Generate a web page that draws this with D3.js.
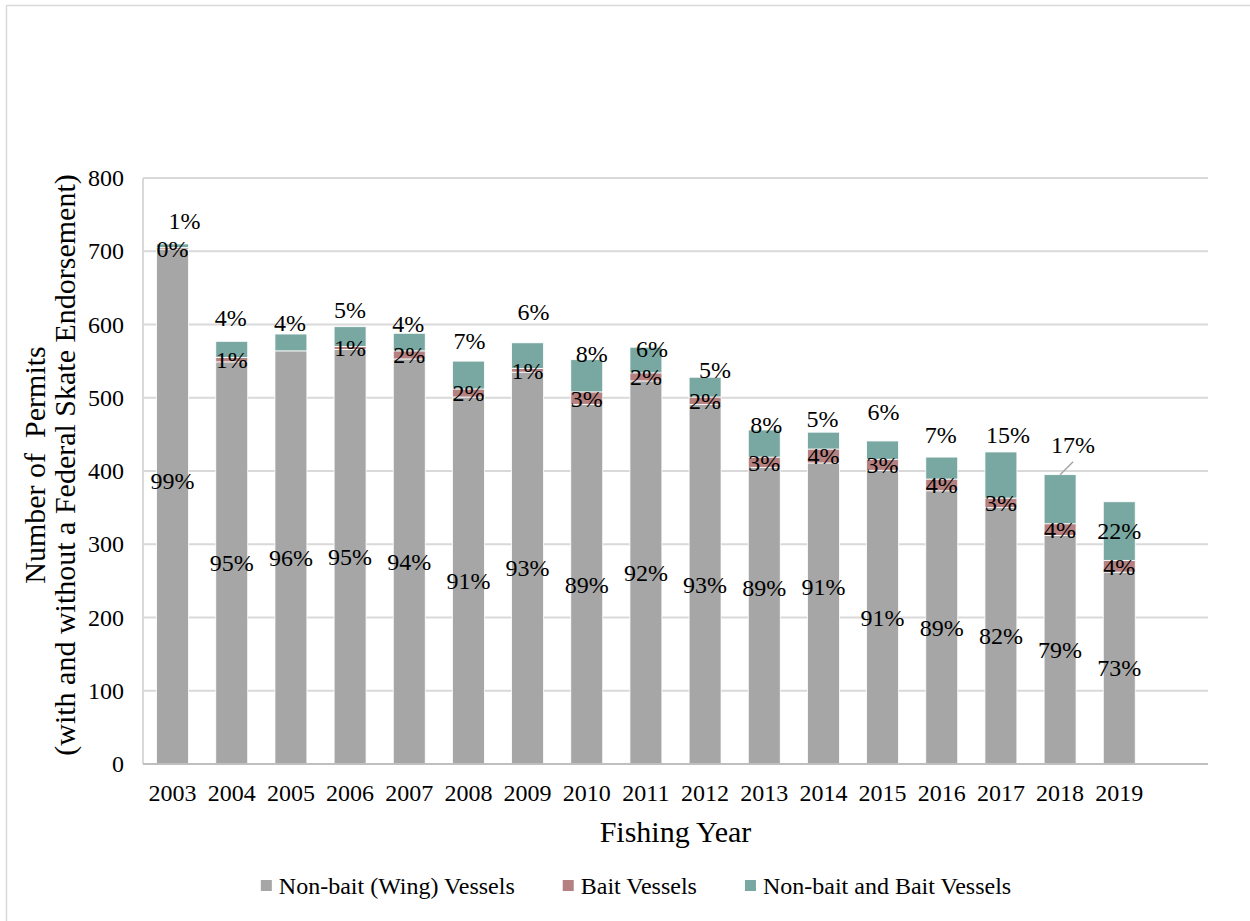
<!DOCTYPE html>
<html>
<head>
<meta charset="utf-8">
<script src="https://cdn.jsdelivr.net/npm/d3@7"></script>
<style>
  html, body { margin: 0; padding: 0; background: #fff; }
  svg { display: block; font-family: "Liberation Serif", serif; }
  svg text { font-family: "Liberation Serif", serif !important; fill: #000; }
</style>
</head>
<body>
<svg id="chart" width="1250" height="921"></svg>
<script>
// Fishing years and permit counts by vessel type
const years = [2003, 2004, 2005, 2006, 2007, 2008, 2009, 2010, 2011, 2012, 2013, 2014, 2015, 2016, 2017, 2018, 2019];
const wingVessels = [703, 549, 564, 566, 553, 501, 535, 491, 523, 491, 405, 411, 401, 373, 350, 312, 262];
const baitVessels = [2, 6, 0, 4, 11, 11, 5, 17, 11, 10, 14, 19, 15, 16, 13, 16, 16];
const bothVessels = [5, 22, 23, 27, 24, 38, 35, 44, 35, 27, 37, 23, 25, 30, 63, 67, 80];
const yTicks = [0, 100, 200, 300, 400, 500, 600, 700, 800];
const seriesNames = ["Non-bait (Wing) Vessels", "Bait Vessels", "Non-bait and Bait Vessels"];
const seriesColors = ["#a6a6a6", "#b48080", "#79a8a2"];

// Hand placement of the top-segment labels (pixels relative to the bar top / centre)
const topLabelDx = [12, -1, -1, 0, -1, 1, 6, 5, 6, 10, 2, -1, 1, -1, 7, 13, 0];
const topLabelDy = [-23, -24, -11, -17, -10, -21, -31, -6, 1, -8, -5, -14, -29, -22, -17, -30, null];
const wingLabelDy = { 2003: -26, 2013: -28, 2014: -27 };

const FONT = '"Liberation Serif", serif';
const svg = d3.select("#chart");
const W = 1250, H = 921;
const plot = { left: 143, right: 1208, top: 178, bottom: 764 };

// chart-area frame
svg.append("rect")
  .attr("x", 6.5).attr("y", 5.5)
  .attr("width", W + 20).attr("height", H + 20)
  .attr("fill", "none").attr("stroke", "#d9d9d9").attr("stroke-width", 1.5);

const slot = (plot.right - plot.left) / 18;
const x = d3.scaleBand()
  .domain(years)
  .range([plot.left, plot.left + slot * years.length])
  .paddingInner(0.46)
  .paddingOuter(0.23);

const y = d3.scaleLinear().domain([0, 800]).range([plot.bottom, plot.top]);

// gridlines
svg.append("g")
  .selectAll("line")
  .data(yTicks.filter(d => d > 0))
  .join("line")
  .attr("x1", plot.left).attr("x2", plot.right)
  .attr("y1", d => y(d)).attr("y2", d => y(d))
  .attr("stroke", "#d9d9d9").attr("stroke-width", 2);

// left axis line
svg.append("line")
  .attr("x1", plot.left).attr("x2", plot.left)
  .attr("y1", plot.top).attr("y2", plot.bottom)
  .attr("stroke", "#d9d9d9").attr("stroke-width", 2);

// y tick labels
const yAxis = d3.axisLeft(y).tickValues(yTicks).tickSize(0).tickPadding(19);
const gy = svg.append("g").attr("transform", `translate(${plot.left},0)`).call(yAxis)
  .attr("font-family", FONT).attr("font-size", 24);
gy.select(".domain").remove();
gy.selectAll("text").attr("fill", "#000");

// stacked data
const rows = years.map((yr, i) => ({ year: yr, wing: wingVessels[i], bait: baitVessels[i], both: bothVessels[i] }));
const keys = ["wing", "bait", "both"];
const stack = d3.stack().keys(keys)(rows);

const barG = svg.append("g");
stack.forEach((layer, k) => {
  barG.append("g")
    .attr("fill", seriesColors[k])
    .selectAll("rect")
    .data(layer)
    .join("rect")
    .attr("x", d => x(d.data.year))
    .attr("width", x.bandwidth())
    .attr("y", d => y(d[1]))
    .attr("height", d => y(d[0]) - y(d[1]))
    .attr("stroke", "#ffffff").attr("stroke-width", 0.8);
});

// x axis line
svg.append("line")
  .attr("x1", plot.left).attr("x2", plot.right)
  .attr("y1", plot.bottom).attr("y2", plot.bottom)
  .attr("stroke", "#bfbfbf").attr("stroke-width", 2);

// x tick labels
const xAxis = d3.axisBottom(x).tickSize(0).tickPadding(20);
const gx = svg.append("g").attr("transform", `translate(0,${plot.bottom})`).call(xAxis)
  .attr("font-family", FONT).attr("font-size", 24);
gx.select(".domain").remove();
gx.selectAll("text").attr("fill", "#000");

// percentage labels
const pct = (v, d) => Math.round(v / (d.wing + d.bait + d.both) * 100) + "%";
const labelG = svg.append("g")
  .attr("font-family", FONT).attr("font-size", 24).attr("text-anchor", "middle");
const cx = d => x(d.year) + x.bandwidth() / 2;

rows.forEach((d, i) => {
  const total = d.wing + d.bait + d.both;
  // wing
  labelG.append("text")
    .attr("x", cx(d))
    .attr("y", (y(0) + y(d.wing)) / 2 + (wingLabelDy[d.year] || 0))
    .attr("dy", "0.35em")
    .text(pct(d.wing, d));
  // bait
  if (d.bait > 0) {
    labelG.append("text")
      .attr("x", cx(d))
      .attr("y", (y(d.wing) + y(d.wing + d.bait)) / 2)
      .attr("dy", "0.35em")
      .text(pct(d.bait, d));
  }
  // non-bait and bait
  const ty = topLabelDy[i] === null
    ? (y(d.wing + d.bait) + y(total)) / 2
    : y(total) + topLabelDy[i];
  labelG.append("text")
    .attr("x", cx(d) + topLabelDx[i])
    .attr("y", ty)
    .attr("dy", "0.35em")
    .text(pct(d.both, d));
});

// leader line for the 2018 label
{
  const d = rows[years.indexOf(2018)];
  const top = y(d.wing + d.bait + d.both);
  svg.append("line")
    .attr("x1", cx(d)).attr("y1", top)
    .attr("x2", cx(d) + 13).attr("y2", top - 13)
    .attr("stroke", "#a6a6a6").attr("stroke-width", 1.5);
}

// axis titles
svg.append("text")
  .attr("x", (plot.left + plot.right) / 2).attr("y", 831)
  .attr("dy", "0.35em").attr("text-anchor", "middle")
  .attr("font-family", FONT).attr("font-size", 30)
  .text("Fishing Year");

const yTitle = svg.append("text")
  .attr("transform", `translate(0,${(plot.top + plot.bottom) / 2 - 6}) rotate(-90)`)
  .attr("text-anchor", "middle")
  .attr("font-family", FONT).attr("font-size", 30);
yTitle.append("tspan").attr("x", 0).attr("y", 45).text("Number of\u00a0 Permits");
yTitle.append("tspan").attr("x", 0).attr("y", 75).text("(with and without a Federal Skate Endorsement)");

// legend
const legend = svg.append("g");
let lx = 0;
seriesNames.forEach((name, k) => {
  const item = legend.append("g").attr("transform", `translate(${lx},0)`);
  item.append("rect").attr("x", 0).attr("y", -6).attr("width", 11).attr("height", 11).attr("fill", seriesColors[k]);
  const t = item.append("text").attr("x", 18).attr("y", 0).attr("dy", "0.35em")
    .attr("font-family", FONT).attr("font-size", 24).text(name);
  lx += 18 + t.node().getComputedTextLength() + 48;
});
const legendWidth = lx - 48;
legend.attr("transform", `translate(${636 - legendWidth / 2},886)`);
</script>
</body>
</html>
